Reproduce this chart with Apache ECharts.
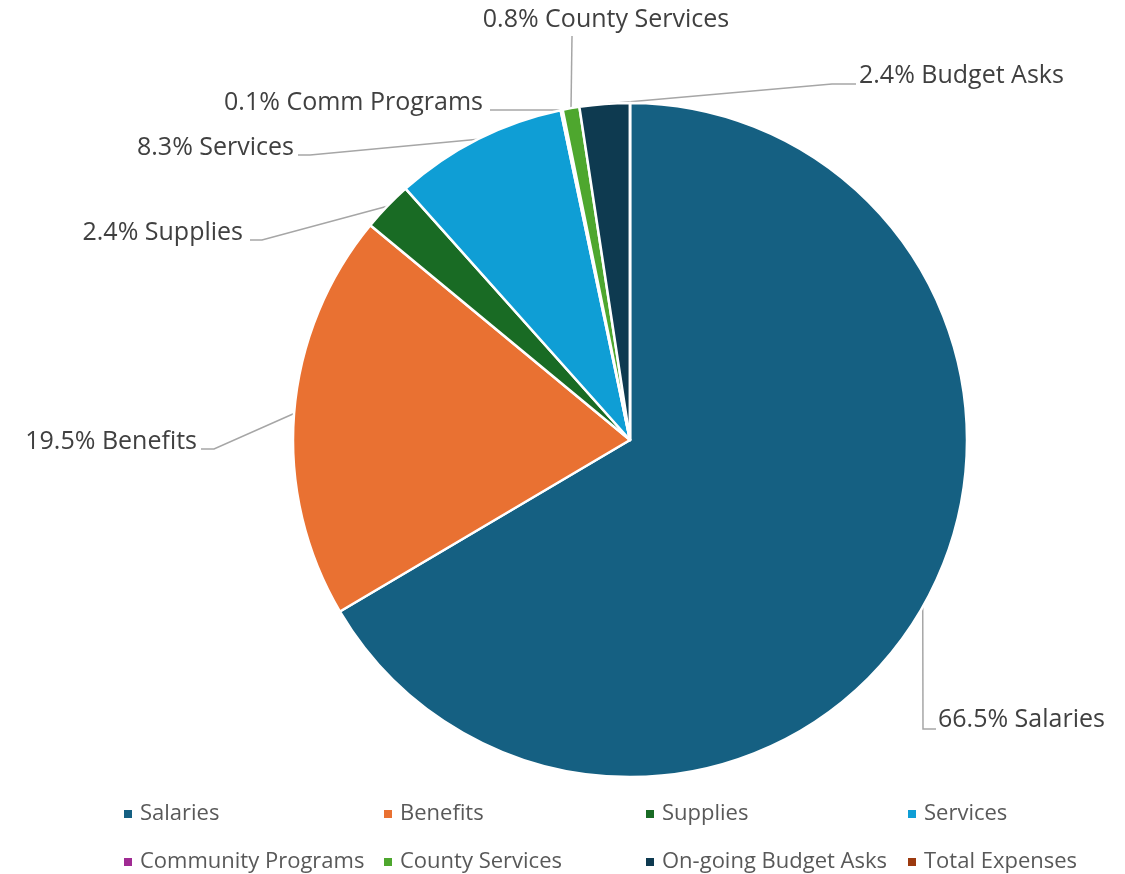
<!DOCTYPE html>
<html>
<head>
<meta charset="utf-8">
<script src="https://cdn.jsdelivr.net/npm/echarts@6/dist/echarts.min.js"></script>
<style>
  html, body { margin: 0; padding: 0; background: #fff; }
  #chart { width: 1125px; height: 874px; }
</style>
</head>
<body>
<div id="chart"></div>
<script>
// slice data, clockwise from 12 o'clock
const categories = ['Salaries', 'Benefits', 'Supplies', 'Services', 'Community Programs', 'County Services', 'On-going Budget Asks', 'Total Expenses'];
const shares = [66.5, 19.5, 2.4, 8.3, 0.1, 0.8, 2.4, 0];
const labelNames = ['Salaries', 'Benefits', 'Supplies', 'Services', 'Comm Programs', 'County Services', 'Budget Asks', ''];

const colors = ['#156082', '#e97132', '#196b24', '#0f9ed5', '#a02b93', '#4ea72e', '#0e3a50', '#9c3a0f'];

// where each label sits (anchor x, y, align) and the bend of its leader line
const labelSpots = [
  { x: 938, y: 720, align: 'left', bend: [[923, 729], [936, 729]] },
  { x: 197, y: 442, align: 'right', bend: [[214, 449], [201, 449]] },
  { x: 243, y: 233, align: 'right', bend: [[262, 240], [250, 240]] },
  { x: 294, y: 148, align: 'right', bend: [[310, 155], [298, 155]] },
  { x: 483, y: 103, align: 'right', bend: [[490, 110]] },
  { x: 606, y: 20, align: 'center', bend: [[572, 36]] },
  { x: 859, y: 76, align: 'left', bend: [[832, 84], [856, 84]] },
  null
];

// legend grid: 4 columns, 2 rows
const legendCols = [122, 382, 644, 906];
const legendRows = [803, 851];

const FONT = '"Open Sans", "Noto Sans", sans-serif';

const chart = echarts.init(document.getElementById('chart'));

const legends = categories.map((name, i) => ({
  data: [name],
  left: legendCols[i % 4],
  top: legendRows[Math.floor(i / 4)],
  icon: 'rect',
  itemWidth: 10,
  itemHeight: 10,
  itemGap: 0,
  padding: 0,
  selectedMode: false,
  textStyle: { fontFamily: FONT, fontSize: 22, color: '#595959', padding: [0, 0, 0, 2] }
}));

const option = {
  animation: false,
  color: colors,
  legend: legends,
  series: [{
    type: 'pie',
    center: [630, 440],
    radius: 337,
    startAngle: 90,
    clockwise: true,
    avoidLabelOverlap: false,
    itemStyle: { borderColor: '#fff', borderWidth: 2.5 },
    label: {
      show: true,
      fontFamily: FONT,
      fontSize: 25,
      color: '#404040',
      formatter: p => p.value.toFixed(1) + '% ' + labelNames[p.dataIndex]
    },
    labelLine: {
      show: true,
      lineStyle: { color: '#a6a6a6', width: 1.5 }
    },
    labelLayout: params => {
      const spot = labelSpots[params.dataIndex];
      if (!spot) return {};
      const start = params.labelLinePoints ? params.labelLinePoints[0] : null;
      const pts = start ? [start].concat(spot.bend) : undefined;
      return {
        x: spot.x,
        y: spot.y,
        align: spot.align,
        verticalAlign: 'middle',
        labelLinePoints: pts
      };
    },
    data: categories.map((name, i) => ({
      name: name,
      value: shares[i],
      label: { show: shares[i] > 0 },
      labelLine: { show: shares[i] > 0 }
    }))
  }]
};

chart.setOption(option);
</script>
</body>
</html>
